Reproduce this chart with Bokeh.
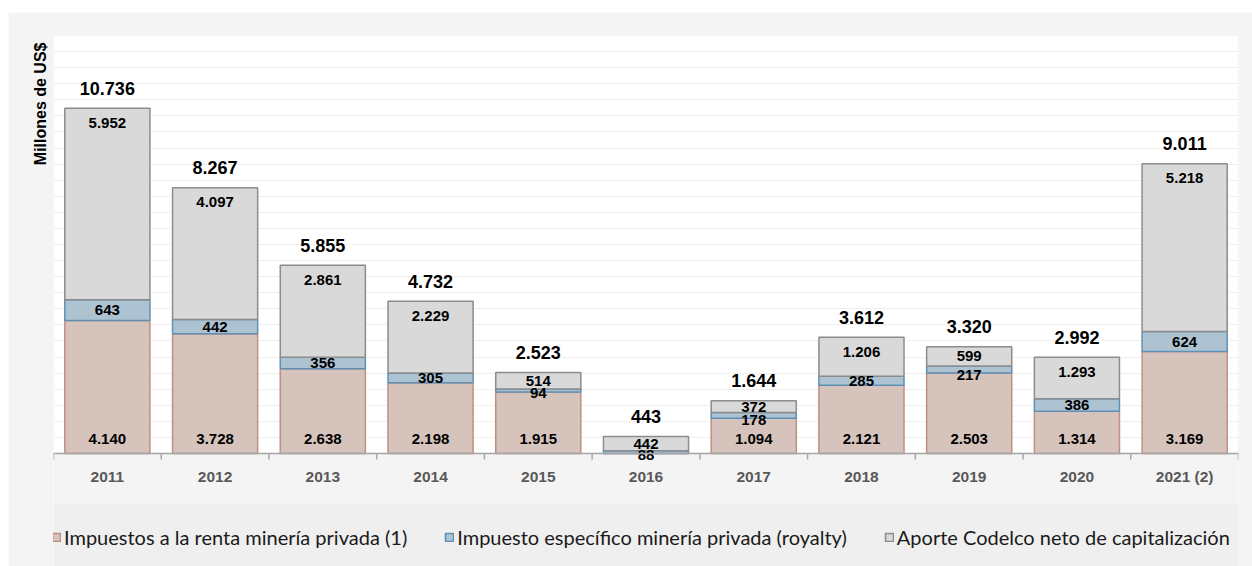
from bokeh.plotting import figure
from bokeh.models import (ColumnDataSource, Range1d, FixedTicker, Legend, LegendItem,
                          Title, Span, BoxAnnotation, Spacer)
from bokeh.core.properties import value
from bokeh.layouts import column, row
from bokeh.embed import file_html
from bokeh.resources import INLINE

# Aportes del sector minero al fisco, millones de US$
years = ["2011", "2012", "2013", "2014", "2015", "2016", "2017", "2018", "2019", "2020", "2021 (2)"]
renta = [4140, 3728, 2638, 2198, 1915, -87, 1094, 2121, 2503, 1314, 3169]
royalty = [643, 442, 356, 305, 94, 88, 178, 285, 217, 386, 624]
codelco = [5952, 4097, 2861, 2229, 514, 442, 372, 1206, 599, 1293, 5218]
totales = [10736, 8267, 5855, 4732, 2523, 443, 1644, 3612, 3320, 2992, 9011]

series_names = ["Impuestos a la renta minería privada (1)",
                "Impuesto específico minería privada (royalty)",
                "Aporte Codelco neto de capitalización"]

Y_MAX = 13000
PLOT_H = 418                   # height of the value area in px
BELOW_H = 113                  # category labels + legend strip under the baseline
FRAME_W = 1185
upp = Y_MAX / PLOT_H           # data units per screen pixel

def fmt(v):
    return f"{v:,}".replace(",", ".")

n = len(years)
xs = list(range(n))

# stacked segments (negative renta values are not drawn)
r_top = [max(v, 0) for v in renta]
roy_bot = r_top
roy_top = [b + v for b, v in zip(roy_bot, royalty)]
cod_bot = roy_top
cod_top = [b + v for b, v in zip(cod_bot, codelco)]

src = ColumnDataSource(dict(x=xs, r_top=r_top, roy_bot=roy_bot, roy_top=roy_top,
                            cod_bot=cod_bot, cod_top=cod_top))

p = figure(frame_width=FRAME_W, frame_height=PLOT_H + BELOW_H,
           x_range=Range1d(-0.5, n - 0.5), y_range=Range1d(-BELOW_H * upp, Y_MAX),
           x_axis_location=None, y_axis_location=None,
           output_backend="svg", toolbar_location=None,
           min_border_left=45, min_border_top=23, min_border_right=14, min_border_bottom=0,
           border_fill_color="#f4f4f4", background_fill_color="white",
           outline_line_color=None)

# grey strip under the baseline, legend band and the plot-area border
p.add_layout(BoxAnnotation(top=0, fill_color="#f4f4f4", fill_alpha=1,
                           line_color=None, level="underlay"))
p.add_layout(BoxAnnotation(top=-50 * upp, fill_color="#efefef", fill_alpha=1,
                           line_color=None, level="underlay"))
p.add_layout(BoxAnnotation(bottom=0, fill_alpha=0, line_color="#d9d9d9",
                           line_width=1.5, level="underlay"))

p.ygrid.ticker = FixedTicker(ticks=list(range(500, Y_MAX + 1, 500)))
p.ygrid.grid_line_color = "#efefef"
p.xgrid.visible = False

BW = 0.79
r1 = p.vbar(x="x", bottom=0, top="r_top", width=BW, source=src,
            fill_color="#d6c3bc", line_color="#bf8f82", line_width=1.5)
r2 = p.vbar(x="x", bottom="roy_bot", top="roy_top", width=BW, source=src,
            fill_color="#aec3d2", line_color="#5f8fb5", line_width=1.5)
r3 = p.vbar(x="x", bottom="cod_bot", top="cod_top", width=BW, source=src,
            fill_color="#d9d9d9", line_color="#8c8c8c", line_width=1.5)

# category axis: baseline, boundary ticks and year labels
p.add_layout(Span(location=0, dimension="width", line_color="#a6a6a6", line_width=1.5))
bounds = [i - 0.5 for i in range(n + 1)]
p.segment(x0=bounds, y0=[0] * len(bounds), x1=bounds, y1=[-6 * upp] * len(bounds),
          line_color="#a6a6a6", line_width=1.5)
p.text(x=xs, y=[-23 * upp] * n, text=years, text_font=value("Liberation Sans"),
       text_font_style="bold", text_font_size="15.5px", text_color="#595959",
       text_align="center", text_baseline="middle")

ytitle = Title(text="Millones de US$", align="right", text_font="Liberation Sans",
               text_font_size="16px", text_font_style="bold", text_color="black",
               standoff=10, offset=7)
p.add_layout(ytitle, "left")

# value labels
lx, ly, lt, ls = [], [], [], []

def put(x, y, v, size):
    lx.append(x); ly.append(y); lt.append(fmt(v)); ls.append(size)

for i in xs:
    if renta[i] > 0:
        put(i, 15 * upp, renta[i], "15px")
    if royalty[i] >= 250:
        put(i, (roy_bot[i] + roy_top[i]) / 2, royalty[i], "15px")
    else:
        put(i, roy_bot[i] - 1.5 * upp, royalty[i], "15px")
    put(i, max(cod_top[i] - 14.5 * upp, (cod_bot[i] + cod_top[i]) / 2), codelco[i], "15px")
    put(i, cod_top[i] + 20 * upp, totales[i], "18px")

lsrc = ColumnDataSource(dict(x=lx, y=ly, t=lt, s=ls))
p.text(x="x", y="y", text="t", text_font_size="s", source=lsrc,
       text_font=value("Liberation Sans"), text_font_style="bold",
       text_align="center", text_baseline="middle", text_color="black")

legend = Legend(items=[LegendItem(label=series_names[0], renderers=[r1]),
                       LegendItem(label=series_names[1], renderers=[r2]),
                       LegendItem(label=series_names[2], renderers=[r3])],
                orientation="horizontal", location=(-2, 17),
                glyph_width=10, glyph_height=10, label_standoff=3, spacing=37,
                label_text_font="Lato", label_text_font_size="20px",
                label_text_color="#1a1a1a", label_height=20,
                padding=21, margin=0,
                background_fill_alpha=0, border_line_color=None)
p.add_layout(legend)

layout = column(Spacer(height=12), row(Spacer(width=8), p))
open("out.html", "w").write(file_html(layout, INLINE))
